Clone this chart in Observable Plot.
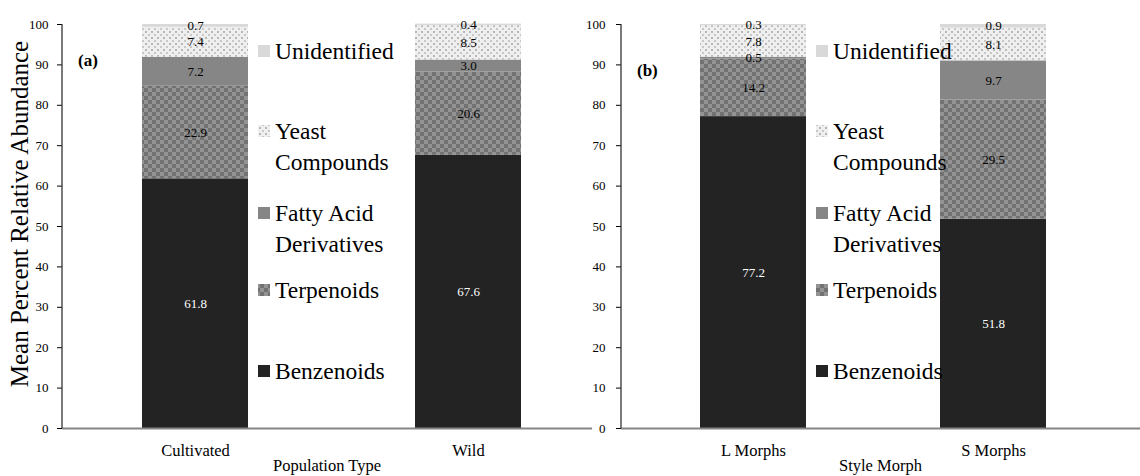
<!DOCTYPE html>
<html>
<head>
<meta charset="utf-8">
<script src="https://cdn.jsdelivr.net/npm/d3@7"></script>
<script src="https://cdn.jsdelivr.net/npm/@observablehq/plot@0.6"></script>
<style>
  html, body { margin: 0; padding: 0; background: #fff; }
  #wrap { position: relative; width: 1140px; height: 476px; overflow: hidden; font-family: 'Liberation Serif', 'Times New Roman', serif; }
  #wrap svg { position: absolute; top: 0; }
  #wrap svg text { font-family: 'Liberation Serif', 'Times New Roman', serif !important; }
</style>
</head>
<body>
<div id="wrap"></div>
<script>
// ---- data ----
const groups = ["Benzenoids", "Terpenoids", "Fatty Acid Derivatives", "Yeast Compounds", "Unidentified"];
const populationTypes = ["Cultivated", "Wild"];
const styleMorphs = ["L Morphs", "S Morphs"];
const cultivated = [61.8, 22.9, 7.2, 7.4, 0.7];
const wild = [67.6, 20.6, 3.0, 8.5, 0.4];
const lMorphs = [77.2, 14.2, 0.5, 7.8, 0.3];
const sMorphs = [51.8, 29.5, 9.7, 8.1, 0.9];
const yTitle = "Mean Percent Relative Abundance";
const legendRows = [
  ["Unidentified"],
  ["Yeast", "Compounds"],
  ["Fatty Acid", "Derivatives"],
  ["Terpenoids"],
  ["Benzenoids"]
];
const legendGroups = ["Unidentified", "Yeast Compounds", "Fatty Acid Derivatives", "Terpenoids", "Benzenoids"];

const H = 476;
const FONT = "'Liberation Serif', 'Times New Roman', serif";
const wrap = document.getElementById("wrap");

function addPatterns(svg, p) {
  const defs = svg.insert("defs", ":first-child");
  const t = defs.append("pattern").attr("id", p + "-terp").attr("patternUnits", "userSpaceOnUse")
    .attr("width", 8).attr("height", 8);
  t.append("rect").attr("width", 8).attr("height", 8).attr("fill", "#939393");
  t.append("rect").attr("width", 4).attr("height", 4).attr("fill", "#727272");
  t.append("rect").attr("x", 4).attr("y", 4).attr("width", 4).attr("height", 4).attr("fill", "#727272");
  const y = defs.append("pattern").attr("id", p + "-yeast").attr("patternUnits", "userSpaceOnUse")
    .attr("width", 6).attr("height", 6);
  y.append("rect").attr("width", 6).attr("height", 6).attr("fill", "#efefef");
  y.append("rect").attr("x", 1).attr("y", 1).attr("width", 2).attr("height", 2).attr("fill", "#b8b8b8");
  y.append("rect").attr("x", 4).attr("y", 4).attr("width", 2).attr("height", 2).attr("fill", "#c8c8c8");
}

function makePanel(o) {
  const rows = o.cats.flatMap((c, i) => groups.map((g, j) => ({cat: c, group: g, value: o.values[i][j]})));
  const p = o.prefix;
  const fills = ["#232323", `url(#${p}-terp)`, "#868686", `url(#${p}-yeast)`, "#d9d9d9"];
  const chart = Plot.plot({
    width: o.width, height: H,
    marginLeft: o.marginLeft, marginRight: o.marginRight, marginTop: 24, marginBottom: 48,
    style: {fontFamily: FONT, fontSize: "13px", background: "transparent", overflow: "visible", color: "#000"},
    x: {domain: o.cats, paddingInner: o.paddingInner, paddingOuter: o.paddingOuter, align: o.align,
        label: null, tickSize: 0, tickPadding: 16},
    y: {domain: [0, 100], ticks: 10, tickSize: 5, tickPadding: o.tickPadding, label: null},
    color: {domain: groups, range: fills},
    marks: [
      Plot.barY(rows, Plot.stackY({x: "cat", y: "value", fill: "group"})),
      Plot.text(rows, Plot.stackY({x: "cat", y: "value", text: d => d.group === "Benzenoids" ? d.value.toFixed(1) : "", fill: "white", fontSize: 13})),
      Plot.text(rows, Plot.stackY({x: "cat", y: "value", text: d => d.group !== "Benzenoids" ? d.value.toFixed(1) : "", fill: "black", fontSize: 13})),
      Plot.ruleY([0], {stroke: "#858585", strokeWidth: 2})
    ]
  });
  chart.style.left = o.left + "px";
  wrap.appendChild(chart);
  const svg = d3.select(chart);
  svg.attr("font-family", FONT);
  addPatterns(svg, p);
  svg.selectAll('g[aria-label^="x-axis"] text').attr("font-size", "16.5px");
  svg.selectAll('g[aria-label^="y-axis"] text').attr("font-size", "13px");
  const ys = chart.scale("y");
  const xs = chart.scale("x");
  // y axis line
  svg.append("line").attr("x1", o.marginLeft).attr("x2", o.marginLeft)
    .attr("y1", ys.apply(0)).attr("y2", ys.apply(100)).attr("stroke", "#333").attr("stroke-width", 1.3);
  // x-axis title
  svg.append("text").attr("x", (o.marginLeft + o.width - o.marginRight) / 2).attr("y", 471)
    .attr("text-anchor", "middle").attr("font-size", "16.5px").text(o.xLabel);
  // panel tag
  svg.append("text").attr("x", o.marginLeft + 16).attr("y", o.tagY).attr("dy", "0.35em")
    .attr("text-anchor", "start").attr("font-size", "17px").attr("font-weight", "bold").text(o.tag);
  // legend
  const lx = xs.apply(o.cats[0]) + xs.bandwidth + 10;
  const rowY = [[51], [131, 162], [213, 244], [290], [371]];
  const fillFor = Object.fromEntries(groups.map((g, i) => [g, fills[i]]));
  legendRows.forEach((lines, i) => {
    const cy = rowY[i][0];
    svg.append("rect").attr("x", lx).attr("y", cy - 6).attr("width", 12).attr("height", 12)
      .attr("fill", fillFor[legendGroups[i]]);
    lines.forEach((line, k) => {
      svg.append("text").attr("x", lx + 17).attr("y", rowY[i][k]).attr("dy", "0.35em")
        .attr("text-anchor", "start").attr("font-size", "23.5px").text(line);
    });
  });
  svg.selectAll("text").attr("font-family", FONT);
  return svg;
}

const a = makePanel({prefix: "pa", cats: populationTypes, values: [cultivated, wild], xLabel: "Population Type", tag: "(a)", tagY: 60,
  left: 0, width: 600, marginLeft: 62, marginRight: 8, paddingInner: 0.612, paddingOuter: 0.2766, align: 0.53, tickPadding: 9});
const b = makePanel({prefix: "pb", cats: styleMorphs, values: [lMorphs, sMorphs], xLabel: "Style Morph", tag: "(b)", tagY: 70,
  left: 560, width: 580, marginLeft: 61, marginRight: 0, paddingInner: 0.558, paddingOuter: 0.36, align: 0.457, tickPadding: 11});

a.append("text").attr("transform", "translate(28,214) rotate(-90)").attr("text-anchor", "middle")
  .attr("font-family", FONT).attr("font-size", "25px").text(yTitle);
</script>
</body>
</html>
